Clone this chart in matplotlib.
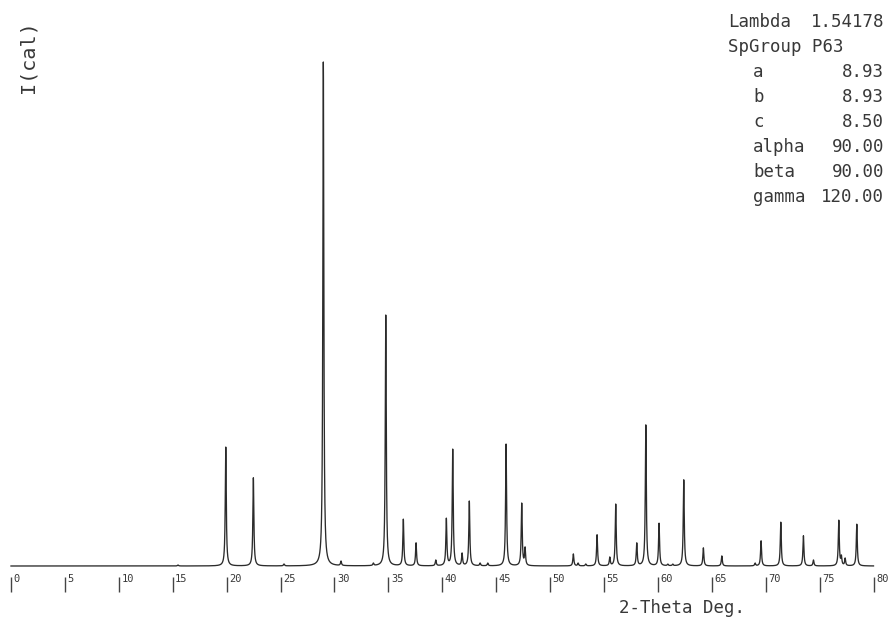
import numpy as np
import matplotlib.pyplot as plt

# peak list: 2-theta (deg) and relative intensity (%)
two_theta = [15.49, 19.92, 22.48, 25.32, 28.97, 30.61, 33.61, 34.76, 36.39, 37.57,
             39.40, 40.38, 40.97, 41.84, 42.51, 43.51, 44.22, 45.92, 47.37, 47.68,
             52.16, 52.60, 53.31, 54.36, 55.54, 56.09, 58.04, 58.88, 60.11, 60.92,
             61.38, 62.40, 64.22, 65.93, 69.02, 69.57, 71.40, 73.50, 74.43, 76.78,
             77.02, 77.37, 78.45]
intensity = [0.2, 23.6, 17.5, 0.4, 100.0, 1.0, 0.6, 49.8, 9.3, 4.6,
             1.2, 9.5, 23.2, 2.6, 12.9, 0.6, 0.6, 24.2, 12.5, 3.8,
             2.4, 0.6, 0.4, 6.2, 1.8, 12.3, 4.6, 28.0, 8.5, 0.4,
             0.4, 17.1, 3.6, 2.0, 0.6, 5.0, 8.7, 6.0, 1.2, 9.1,
             2.2, 1.6, 8.3]

tick_values = list(range(0, 85, 5))
cell_names = ['a', 'b', 'c', 'alpha', 'beta', 'gamma']
cell_values = ['8.93', '8.93', '8.50', '90.00', '90.00', '120.00']
wavelength = '1.54178'
space_group = 'P63'

fwhm = 0.11
ink = '#2b2b2b'
txt = '#383838'
mono = 'DejaVu Sans Mono'


def lorentz(d):
    return 1.0 / (1.0 + (2.0 * d / fwhm) ** 2)


# solve for amplitudes so that the summed profile reaches the read peak heights
pos = np.array(two_theta)
hgt = np.array(intensity)
M = lorentz(pos[:, None] - pos[None, :])
amp = np.linalg.solve(M, hgt)

x = np.linspace(0, 80, 16001)
y = (amp[None, :] * lorentz(x[:, None] - pos[None, :])).sum(axis=1)

W, H = 893, 622
fig = plt.figure(figsize=(W / 100, H / 100), dpi=100)
ax = fig.add_axes([0, 0, 1, 1])

# pixel layout: 0 deg at x=11, 80 deg at x=873.5; baseline y=566, 100% at y=62
px_per_deg = (873.5 - 11) / 80
px_per_pct = (566 - 62) / 100
ax.set_xlim(-11 / px_per_deg, (W - 11) / px_per_deg)
ax.set_ylim(-(H - 566) / px_per_pct, 566 / px_per_pct)
ax.axis('off')

ax.plot(x, y, color=ink, lw=0.95)

# tick marks hang below the baseline, labels sit to the upper right
t_top = -(577 - 566) / px_per_pct
t_bot = -(592 - 566) / px_per_pct
ax.vlines(tick_values, t_bot, t_top, color='#444444', lw=1.0)
for t in tick_values:
    ax.text(t + 2.5 / px_per_deg, t_top - 1.5 / px_per_pct, str(t),
            fontsize=7.5, family=mono, color=txt, ha='left', va='center')

ax.text((682 - 11) / px_per_deg, -(608 - 566) / px_per_pct, '2-Theta Deg.',
        fontsize=12.5, family=mono, color=txt, ha='center', va='center')

fig.text(28 / W, 1 - 57 / H, 'I(cal)', rotation=90, fontsize=14.5, family=mono,
         color=txt, ha='center', va='center')

# cell info block, top right
left_x = 728 / W
name_x = 753 / W
val_x = 884 / W
row0 = 22
step = 25
fig.text(left_x, 1 - row0 / H, 'Lambda', fontsize=12.5, family=mono,
         color=txt, ha='left', va='center')
fig.text(val_x, 1 - row0 / H, wavelength, fontsize=12.5, family=mono,
         color=txt, ha='right', va='center')
fig.text(left_x, 1 - (row0 + step) / H, 'SpGroup ' + space_group, fontsize=12.5,
         family=mono, color=txt, ha='left', va='center')
for i, (n, v) in enumerate(zip(cell_names, cell_values)):
    yy = 1 - (row0 + step * (i + 2)) / H
    fig.text(name_x, yy, n, fontsize=12.5, family=mono, color=txt,
             ha='left', va='center')
    fig.text(val_x, yy, v, fontsize=12.5, family=mono, color=txt,
             ha='right', va='center')

fig.savefig('out.png', dpi=100)
